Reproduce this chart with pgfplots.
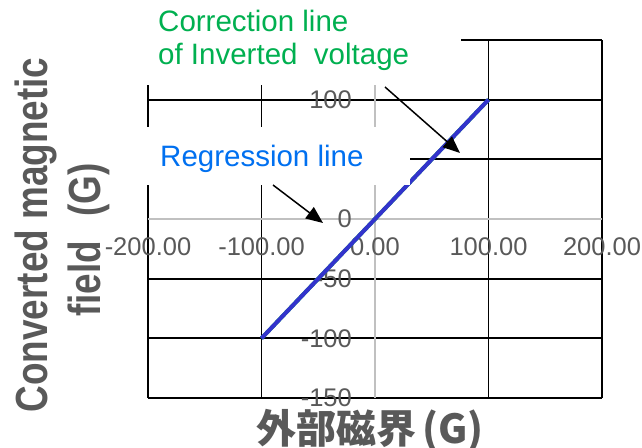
\documentclass[border=0pt]{standalone}
\usepackage{fontspec}
\setmainfont{Liberation Sans}
\newfontfamily\cjk{Noto Sans CJK JP}
\usepackage{graphicx}
\usepackage{pgfplots}
\pgfplotsset{compat=1.18}
\usetikzlibrary{arrows.meta}

\definecolor{labgray}{HTML}{595959}
\definecolor{zerogray}{HTML}{C0C0C0}
\definecolor{corrgreen}{HTML}{00B050}
\definecolor{regblue}{HTML}{0070F0}
\definecolor{lineblue}{HTML}{3333CC}

\begin{document}
\begin{tikzpicture}[x=1pt,y=1pt]
\fill[white] (0,0) rectangle (642,447);
\useasboundingbox (0,0) rectangle (642,447);
\begin{axis}[
  at={(148pt,49pt)}, anchor=south west,
  width=454pt, height=358pt, scale only axis,
  xmin=-200, xmax=200, ymin=-150, ymax=150,
  axis lines=middle,
  axis line style={draw=zerogray, line width=2.2pt, -},
  hide obscured x ticks=false, hide obscured y ticks=false,
  xtick={-200,-100,0,100,200},
  xticklabels={-200.00,-100.00,0.00,100.00,200.00},
  ytick={-150,-100,-50,0,50,100,150},
  % labels at 50 and 150 sit under the annotation boxes
  yticklabels={-150,-100,-50,0,,100,},
  major tick length=0pt,
  grid=major,
  major grid style={black, line width=1.8pt},
  tick label style={font=\fontsize{25.5}{28}\selectfont, text=labgray},
  xticklabel style={anchor=north, inner sep=0pt, yshift=-18pt},
  yticklabel style={anchor=east, inner sep=0pt, xshift=-23pt},
  clip=false,
]
% correction line (inverted voltage) and regression line coincide
\addplot[corrgreen, line width=4pt] coordinates {(-100,-100) (100,100)};
\addplot[lineblue, line width=4pt] coordinates {(-100,-100) (100,100)};
\end{axis}

% annotation boxes
\fill[white] (140,362) rectangle (461,447);
\fill[white] (140,262) rectangle (410,320);
\node[anchor=base west, inner sep=0pt, text=corrgreen, font=\fontsize{29.5}{33}\selectfont] at (158,415) {Correction line};
\node[anchor=base west, inner sep=0pt, text=corrgreen, font=\fontsize{29.5}{33}\selectfont] at (158,382) {of Inverted\ \ voltage};
\node[anchor=base west, inner sep=0pt, text=regblue, font=\fontsize{29.5}{33}\selectfont] at (160,280) {Regression line};
\draw[black, line width=1.5pt, -{Triangle[length=17pt,width=14pt]}] (385,360) -- (460,294);
\draw[black, line width=1.5pt, -{Triangle[length=17pt,width=14pt]}] (273,262) -- (323,224);

% axis titles
\node[rotate=90, anchor=base, inner sep=0pt, text=labgray] at (47,212)
  {\scalebox{0.82}[1]{\fontsize{45}{50}\selectfont\bfseries Converted magnetic}};
\node[rotate=90, anchor=base west, inner sep=0pt, text=labgray] at (100,130)
  {\scalebox{0.82}[1]{\fontsize{45}{50}\selectfont\bfseries field}\hspace{24pt}%
   \scalebox{0.82}[1]{\fontsize{45}{50}\selectfont\bfseries (G)}};
\node[anchor=base west, inner sep=0pt, text=labgray] at (256,4)
  {\cjk\bfseries\fontsize{40}{44}\selectfont 外部磁界\hspace{6pt}(G)};
\end{tikzpicture}
\end{document}
